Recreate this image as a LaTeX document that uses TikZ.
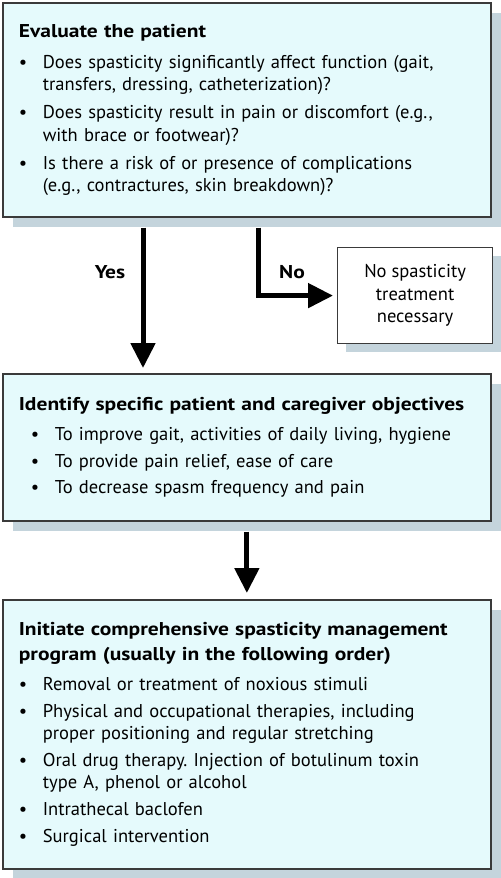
\documentclass[tikz,border=0pt]{standalone}
\usepackage{fontspec}
\setmainfont{PT Sans}[BoldFeatures={FakeStretch=1.16}]
\usepackage{tikz}
\usetikzlibrary{arrows.meta,calc,positioning,shadows}
\definecolor{boxfill}{RGB}{229,250,252}
\definecolor{boxshadow}{RGB}{196,212,220}
\definecolor{boxline}{RGB}{58,58,58}

\newcommand{\bul}{\makebox[18pt][l]{\textbullet}}
\newcommand{\ind}{\hspace*{18pt}}
\frenchspacing

\begin{document}
\begin{tikzpicture}[
      x=0.75pt, y=-0.75pt,
      every node/.style={font=\fontsize{13.9}{16.75}\selectfont},
      stepbox/.style={draw=boxline, line width=1.3pt, fill=boxfill, anchor=north west,
        minimum width=366pt, inner xsep=12pt, text width=342pt, align=left,
        general shadow={fill=boxshadow, draw=none, shadow xshift=7.5pt, shadow yshift=-7.5pt}},
      endbox/.style={draw=boxline, line width=0.9pt, fill=white, anchor=north west,
        minimum width=116.25pt, minimum height=72pt, align=center,
        general shadow={fill=boxshadow, draw=none, shadow xshift=6pt, shadow yshift=-6pt}},
      flow/.style={line width=3.75pt, -{Triangle[length=18.75pt, width=18pt]}},
      lbl/.style={font=\fontsize{13.9}{16.75}\selectfont\bfseries}
    ]

    \useasboundingbox (0,0) rectangle (500,878);

    % -------- EVALUATE --------
    \node[stepbox, minimum height=160.5pt] (eval) at (2,2) {%
      \textbf{Evaluate the patient}\\[6.5pt]
      \bul Does spasticity significantly affect function (gait,\\
      \ind transfers, dressing, catheterization)?\\[4.5pt]
      \bul Does spasticity result in pain or discomfort (e.g.,\\
      \ind with brace or footwear)?\\[4.5pt]
      \bul Is there a risk of or presence of complications\\
      \ind (e.g., contractures, skin breakdown)?};

    % -------- NO BRANCH --------
    \node[endbox] (none) at (337,247) {No spasticity\\treatment\\necessary};

    % -------- OBJECTIVES --------
    \node[stepbox, minimum height=110.25pt] (goals) at (2,373) {%
      \textbf{Identify specific patient and caregiver objectives}\\[6pt]
      \hspace*{9pt}\bul To improve gait, activities of daily living, hygiene\\[3pt]
      \hspace*{9pt}\bul To provide pain relief, ease of care\\[3pt]
      \hspace*{9pt}\bul To decrease spasm frequency and pain};

    % -------- MANAGEMENT --------
    \node[stepbox, minimum height=201.75pt] (manage) at (2,599) {%
      \textbf{Initiate comprehensive spasticity management}\\[1.9pt]
      \textbf{program (usually in the following order)}\\[5.6pt]
      \bul Removal or treatment of noxious stimuli\\[3.4pt]
      \bul Physical and occupational therapies, including\\
      \ind proper positioning and regular stretching\\[3.4pt]
      \bul Oral drug therapy. Injection of botulinum toxin\\
      \ind type A, phenol or alcohol\\[3.4pt]
      \bul Intrathecal baclofen\\[3.4pt]
      \bul Surgical intervention};

    % -------- ARROWS --------
    \coordinate (yesTop) at ($(eval.south west)+(141,10)$);
    \coordinate (noTop) at ($(eval.south west)+(256,10)$);

    \draw[flow, shorten >=3.75pt] (yesTop) -- (yesTop |- goals.north);
    \draw[flow, shorten >=3pt] (noTop) |- (none.west);
    \draw[flow, shorten >=4.5pt] ([yshift=-7.5pt]goals.south) -- (manage.north);

    \node[lbl] (yes) at (110,272) {Yes};
    \node[lbl] (no) at (292,272) {No};

\end{tikzpicture}
\end{document}
